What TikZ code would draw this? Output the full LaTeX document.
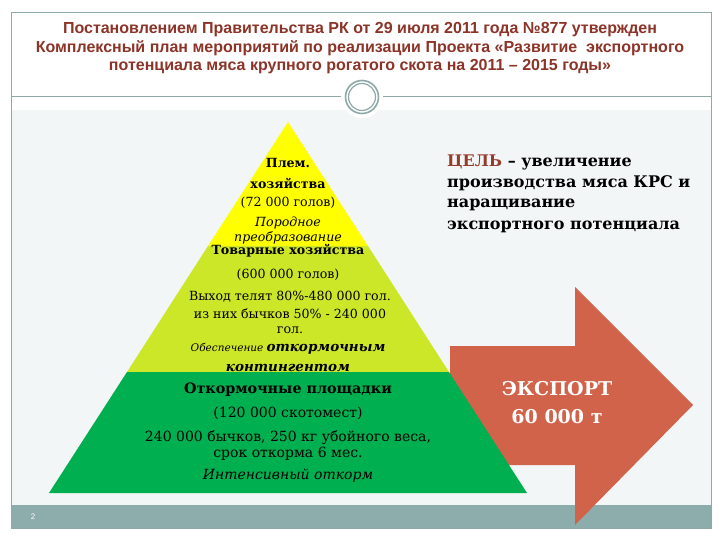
\documentclass[tikz,border=0pt]{standalone}
\usepackage{fontspec}
\setmainfont{DejaVu Serif}
\newfontfamily\titlefont{Liberation Sans}
\newfontfamily\numfont{Liberation Sans}
\definecolor{bgl}{RGB}{243,246,247}
\definecolor{barc}{RGB}{141,172,172}
\definecolor{framec}{RGB}{143,168,168}
\definecolor{titlec}{RGB}{140,52,40}
\definecolor{goalc}{RGB}{150,60,45}
\definecolor{arrowc}{RGB}{209,99,74}
\definecolor{pyel}{RGB}{255,255,0}
\definecolor{plime}{RGB}{204,230,40}
\definecolor{pgreen}{RGB}{0,176,80}
\tikzset{
  title/.style={font=\titlefont\bfseries\fontsize{16}{19}\selectfont, text=titlec, inner sep=0pt},
  ptxt/.style={font=\fontsize{12.6}{15}\selectfont, inner sep=0pt},
  pbold/.style={font=\bfseries\fontsize{12.6}{15}\selectfont, inner sep=0pt},
  pital/.style={font=\itshape\fontsize{12.6}{15}\selectfont, inner sep=0pt},
  gtxt/.style={font=\fontsize{14}{16}\selectfont, inner sep=0pt},
  gbold/.style={font=\bfseries\fontsize{14.3}{16}\selectfont, inner sep=0pt},
  gital/.style={font=\itshape\fontsize{14}{16}\selectfont, inner sep=0pt},
  goal/.style={font=\bfseries\fontsize{16}{22}\selectfont, inner sep=0pt, anchor=west},
  exptxt/.style={font=\bfseries\fontsize{19}{22}\selectfont, text=white, inner sep=0pt}
}
\begin{document}
\begin{tikzpicture}[x=1pt,y=-1pt]
\useasboundingbox (0,0) rectangle (720,540);
\fill[white] (0,0) rectangle (720,540);
\fill[bgl] (12,110) rectangle (711,505);
\fill[barc] (12,505) rectangle (711,528);
\draw[framec, line width=1pt] (11.5,12.5) rectangle (711.5,528);
\draw[framec, line width=1pt] (11.5,97) -- (711.5,97);
% ring
\fill[white] (362,97) circle (21);
\draw[framec, line width=1.6pt] (362,97) circle (16.5);
\draw[framec, line width=1.2pt] (362,97) circle (13.5);
% title
\node[title] (t1) at (360,30) {Постановлением Правительства РК от 29 июля 2011 года №877 утвержден};
\node[title] (t2) at (360,48.5) {Комплексный план мероприятий по реализации Проекта «Развитие\ \ экспортного};
\node[title] (t3) at (360,67) {потенциала мяса крупного рогатого скота на 2011 – 2015 годы»};
% arrow
\fill[arrowc] (450,346) -- (575,346) -- (575,287) -- (693,405) -- (575,525) -- (575,465) -- (450,465) -- cycle;
\node[exptxt] (e1) at (557,389) {ЭКСПОРТ};
\node[exptxt] (e2) at (557,417) {60 000 т};
% pyramid
\fill[pyel] (288,122) -- (368,246) -- (208,246) -- cycle;
\node[pbold] (y1) at (288,163) {Плем.};
\node[pbold] (y2) at (288,183) {хозяйства};
\node[ptxt] (y3) at (288,203) {(72 000 голов)};
\node[pital] (y4) at (288,223) {Породное};
\node[pital] (y5) at (288,238) {преобразование};
\fill[plime] (208,246) -- (368,246) -- (449,372) -- (127,372) -- cycle;
\node[pbold] (l1) at (288,251) {Товарные хозяйства};
\node[ptxt] (l2) at (288,275) {(600 000 голов)};
\node[ptxt] (l3) at (290,297) {Выход телят 80\%-480 000 гол.};
\node[ptxt] (l4) at (290,314) {из них бычков 50\% - 240 000};
\node[ptxt] (l5) at (290,330) {гол.};
\node[inner sep=0pt] (l6) at (288,349) {{\itshape\fontsize{10.5}{12}\selectfont Обеспечение} {\bfseries\itshape\fontsize{13.5}{15}\selectfont откормочным}};
\node[inner sep=0pt, font=\bfseries\itshape\fontsize{13.5}{15}\selectfont] (l7) at (288,368) {контингентом};
\fill[pgreen] (127,372) -- (449,372) -- (527,493) -- (49,493) -- cycle;
\node[gbold] (g1) at (288,390) {Откормочные площадки};
\node[gtxt] (g2) at (288,413) {(120 000 скотомест)};
\node[gtxt] (g3) at (288,438) {240 000 бычков, 250 кг убойного веса,};
\node[gtxt] (g4) at (288,454) {срок откорма 6 мес.};
\node[gital] (g5) at (288,476) {Интенсивный откорм};
% goal
\node[goal] (c1) at (447,162) {\textcolor{goalc}{ЦЕЛЬ} – увеличение};
\node[goal] (c2) at (447,183.5) {производства мяса КРС и};
\node[goal] (c3) at (447,205) {наращивание};
\node[goal] (c4) at (447,226.5) {экспортного потенциала};
% page number
\node[font=\numfont\fontsize{8}{9}\selectfont, text=white, inner sep=0pt] (pn) at (33,517) {2};
\end{tikzpicture}
\end{document}
